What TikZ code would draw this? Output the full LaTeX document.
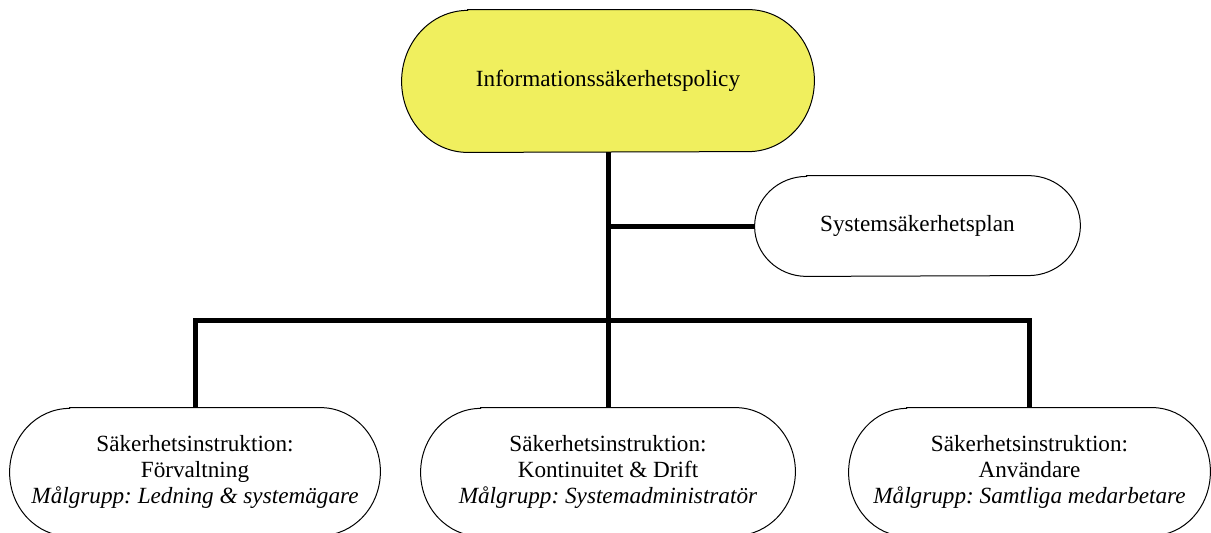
\documentclass[tikz,border=0pt]{standalone}
\usepackage{fontspec}
\setmainfont{Liberation Serif}
\frenchspacing
\usetikzlibrary{calc,backgrounds}
\definecolor{policy}{RGB}{240,239,94}
\definecolor{ink}{RGB}{0,0,0}
\tikzset{
  term/.style={inner sep=0pt,align=center,minimum width=#1,minimum height=64pt},
  term/.default=185pt,
  frame/.style={draw=ink,line width=0.5pt},
  bus/.style={draw=ink,line width=2.5pt},
}
% outline of a terminator shape: node, x radius, y radius
\newcommand{\termline}[4][white]{%
  \path[frame,fill=#1] ($(#2.north west)+(#3,0)$) -- ($(#2.north east)+(-#3,0)$)
    arc[start angle=90,end angle=-90,x radius=#3,y radius=#4]
    -- ($(#2.south west)+(#3,0)$)
    arc[start angle=270,end angle=90,x radius=#3,y radius=#4] -- cycle;}

\begin{document}
\begin{tikzpicture}[x=0.5pt,y=0.5pt,font=\fontsize{11.6}{13}\selectfont]
    \useasboundingbox (0,0) rectangle (1211,-532);
    % policy and plan
    \node[term=206pt,minimum height=71pt] (policy) at (608,-81) {Informationssäkerhetspolicy};
    \node[term=162.5pt,minimum height=50pt] (plan) at (917.5,-226) {Systemsäkerhetsplan};

    % instructions
    \node[term] (adm) at (195,-472) {Säkerhetsinstruktion:\\Förvaltning\\\textit{Målgrupp: Ledning \& systemägare}};
    \node[term=187pt] (ops) at (608,-472) {Säkerhetsinstruktion:\\Kontinuitet \& Drift\\\textit{Målgrupp: Systemadministratör}};
    \node[term=180.5pt] (usr) at (1029.5,-472) {Säkerhetsinstruktion:\\Användare\\\textit{Målgrupp: Samtliga medarbetare}};

    \begin{scope}[on background layer]
      \termline[policy]{policy}{66}{71}
      \termline{plan}{52}{50}
      \termline{adm}{60}{64}
      \termline{ops}{60}{64}
      \termline{usr}{58}{64}
    \end{scope}

    % tree lines
    \coordinate (bar) at (608,-320);
    \draw[bus] (policy.south)--(ops.north);
    \draw[bus] (plan.west)--(plan.west -| policy.south);
    \draw[bus] (adm.north) |- (bar) -| (usr.north);
  \end{tikzpicture}
\end{document}
